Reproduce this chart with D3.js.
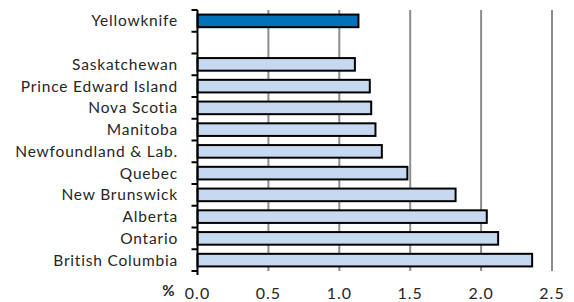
<!DOCTYPE html>
<html lang="en">
<head>
  <meta charset="utf-8" />
  <style>
    body { margin: 0; background: #fff; }
    svg text { font-family: Lato, sans-serif; fill: #262626; }
  </style>
</head>
<body>
  <div id="chart"></div>
  <script src="https://cdnjs.cloudflare.com/ajax/libs/d3/7.8.5/d3.min.js"></script>
  <script>
    // categories top to bottom, "" is the empty gap row
    const categories = ["Yellowknife", "", "Saskatchewan", "Prince Edward Island", "Nova Scotia",
      "Manitoba", "Newfoundland & Lab.", "Quebec", "New Brunswick", "Alberta", "Ontario", "British Columbia"];
    const values = [1.135, null, 1.11, 1.215, 1.225, 1.255, 1.30, 1.48, 1.82, 2.04, 2.12, 2.36];
    const highlight = ["Yellowknife"];
    const xTicks = [0, 0.5, 1.0, 1.5, 2.0, 2.5];

    const width = 574, height = 302;
    const margin = { top: 10, right: 22, bottom: 31, left: 197.5 };

    const svg = d3.select("#chart").append("svg")
      .attr("width", width)
      .attr("height", height);

    const x = d3.scaleLinear().domain([0, 2.5]).range([margin.left, width - margin.right]);
    const y = d3.scaleBand().domain(categories.map((c, i) => i))
      .range([margin.top, height - margin.bottom])
      .paddingInner(0.42).paddingOuter(0.21);

    // gridlines
    svg.append("g")
      .selectAll("line")
      .data(xTicks.slice(1))
      .join("line")
      .attr("x1", d => x(d)).attr("x2", d => x(d))
      .attr("y1", margin.top).attr("y2", height - margin.bottom)
      .attr("stroke", "#8c8c8c")
      .attr("stroke-width", 2);

    // bars
    const data = categories.map((c, i) => ({ name: c, i: i, v: values[i] })).filter(d => d.v != null);
    svg.append("g")
      .selectAll("rect")
      .data(data)
      .join("rect")
      .attr("x", x(0))
      .attr("y", d => y(d.i))
      .attr("width", d => x(d.v) - x(0))
      .attr("height", y.bandwidth())
      .attr("fill", d => highlight.includes(d.name) ? "#0070b8" : "#c6d9f0")
      .attr("stroke", "#000")
      .attr("stroke-width", 2);

    // left axis with boundary ticks
    const step = y.step();
    const yAxis = svg.append("g");
    yAxis.append("line")
      .attr("x1", x(0)).attr("x2", x(0))
      .attr("y1", margin.top).attr("y2", height - margin.bottom)
      .attr("stroke", "#000").attr("stroke-width", 2);
    yAxis.selectAll("line.tick")
      .data(d3.range(categories.length + 1))
      .join("line")
      .attr("class", "tick")
      .attr("x1", x(0) - 6).attr("x2", x(0))
      .attr("y1", i => margin.top + i * step)
      .attr("y2", i => margin.top + i * step)
      .attr("stroke", "#000").attr("stroke-width", 2);
    yAxis.selectAll("text")
      .data(categories.map((c, i) => ({ c, i })))
      .join("text")
      .attr("x", 178)
      .attr("y", d => y(d.i) + y.bandwidth() / 2)
      .attr("dy", "0.36em")
      .attr("text-anchor", "end")
      .attr("font-size", 15.5)
      .attr("letter-spacing", "0.8px")
      .text(d => d.c);

    // bottom tick at zero
    svg.append("line")
      .attr("x1", x(0)).attr("x2", x(0))
      .attr("y1", height - margin.bottom).attr("y2", height - margin.bottom + 4)
      .attr("stroke", "#000").attr("stroke-width", 2);

    svg.append("g")
      .selectAll("text")
      .data(xTicks)
      .join("text")
      .attr("x", d => x(d))
      .attr("y", 299)
      .attr("text-anchor", "middle")
      .attr("font-size", 16)
      .attr("letter-spacing", "1px")
      .text(d => d3.format(".1f")(d));

    svg.append("text")
      .attr("x", 168.5)
      .attr("y", 296)
      .attr("text-anchor", "middle")
      .attr("font-size", 15)
      .attr("font-weight", "bold")
      .text("%");
  </script>
</body>
</html>
